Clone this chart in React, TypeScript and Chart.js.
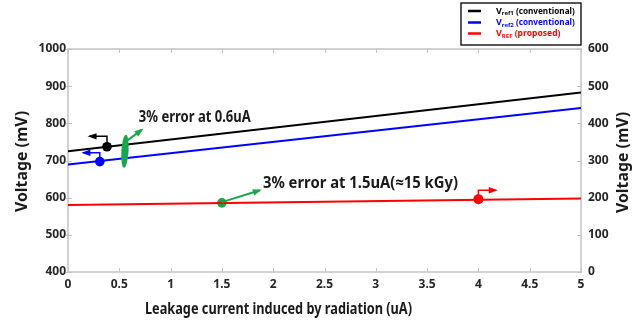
import React, { useEffect, useRef } from "react";
import { Chart, registerables } from "chart.js";

Chart.register(...registerables);

// ---- data ----
const xEnds = [0, 5];
const vref1 = [725, 883];
const vref2 = [689, 841];
const vrefProposed = [580, 598];

const markerBlack = { x: 0.38, y: 737 };
const markerBlue = { x: 0.31, y: 697 };
const markerGreen = { x: 1.5, y: 586 };
const markerRed = { x: 4, y: 596 };

const xTickStep = 0.5;
const yLeftRange = [400, 1000];
const yRightRange = [0, 600];
const yStep = 100;

const seriesLabels = [
  { main: "V", sub: "ref1", rest: " (conventional)" },
  { main: "V", sub: "ref2", rest: " (conventional)" },
  { main: "V", sub: "REF", rest: " (proposed)" },
];
const seriesColors = ["#000000", "#0000ff", "#ff0000"];
const GREEN = "#17a84c";

// annotations in data units
const arrowBlack = [[0.38, 737], [0.38, 765], [0.21, 765]];
const arrowBlue = [[0.31, 697], [0.31, 721], [0.15, 721]];
const arrowGreen1 = [[0.57, 752], [0.72, 783]];
const arrowGreen2 = [[1.5, 588], [1.87, 620]];
const arrowRed = [[4, 596], [4, 620], [4.17, 620]];
const ellipseCenter = { x: 0.555, y: 725 };
const note1 = { x: 0.69, y: 816, text: "3% error at 0.6uA" };
const note2 = { x: 1.9, y: 639, text: "3% error at 1.5uA(\u224815 kGy)" };

const FONT = '"Noto Sans", "Open Sans", sans-serif';

function line(data: number[]) {
  return xEnds.map((x, i) => ({ x, y: data[i] }));
}

function fitText(
  ctx: CanvasRenderingContext2D,
  s: string,
  x: number,
  y: number,
  size: number,
  width: number,
  color: string,
  align: CanvasTextAlign = "left",
  rot = 0
) {
  ctx.save();
  ctx.font = `bold ${size}px ${FONT}`;
  const w = ctx.measureText(s).width;
  ctx.translate(x, y);
  if (rot) ctx.rotate(rot);
  ctx.scale(width / w, 1);
  ctx.fillStyle = color;
  ctx.textAlign = align;
  ctx.textBaseline = "middle";
  ctx.fillText(s, 0, 0);
  ctx.restore();
}

function drawArrow(ctx: CanvasRenderingContext2D, pts: number[][], color: string, lw: number) {
  ctx.save();
  ctx.strokeStyle = color;
  ctx.fillStyle = color;
  ctx.lineWidth = lw;
  ctx.beginPath();
  pts.forEach((p, i) => (i === 0 ? ctx.moveTo(p[0], p[1]) : ctx.lineTo(p[0], p[1])));
  ctx.stroke();
  const a = pts[pts.length - 2];
  const b = pts[pts.length - 1];
  const ang = Math.atan2(b[1] - a[1], b[0] - a[0]);
  const L = 7;
  const W = 3.2;
  ctx.beginPath();
  ctx.moveTo(b[0] + Math.cos(ang) * 2, b[1] + Math.sin(ang) * 2);
  ctx.lineTo(b[0] - Math.cos(ang) * L + Math.sin(ang) * W, b[1] - Math.sin(ang) * L - Math.cos(ang) * W);
  ctx.lineTo(b[0] - Math.cos(ang) * L - Math.sin(ang) * W, b[1] - Math.sin(ang) * L + Math.cos(ang) * W);
  ctx.closePath();
  ctx.fill();
  ctx.restore();
}

const decorPlugin = {
  id: "decor",
  beforeDatasetsDraw(chart: any) {
    const { ctx, chartArea: a, scales } = chart;
    ctx.save();
    ctx.strokeStyle = "#c4c4c4";
    ctx.lineWidth = 1.5;
    ctx.strokeRect(a.left, a.top, a.right - a.left, a.bottom - a.top);
    ctx.lineWidth = 1;
    const tl = 4;
    ctx.beginPath();
    for (let v = 0; v <= 5 + 1e-9; v += xTickStep) {
      const px = Math.round(scales.x.getPixelForValue(v)) + 0.5;
      ctx.moveTo(px, a.bottom);
      ctx.lineTo(px, a.bottom - tl);
      ctx.moveTo(px, a.top);
      ctx.lineTo(px, a.top + tl);
    }
    for (let v = yLeftRange[0]; v <= yLeftRange[1]; v += yStep) {
      const py = Math.round(scales.y.getPixelForValue(v)) + 0.5;
      ctx.moveTo(a.left - 2, py);
      ctx.lineTo(a.left + tl, py);
    }
    for (let v = yRightRange[0]; v <= yRightRange[1]; v += yStep) {
      const py = Math.round(scales.y2.getPixelForValue(v)) + 0.5;
      ctx.moveTo(a.right + 1, py);
      ctx.lineTo(a.right - tl, py);
    }
    ctx.stroke();
    ctx.restore();
  },
  afterDatasetsDraw(chart: any) {
    const { ctx, chartArea: a, scales } = chart;
    const X = (v: number) => scales.x.getPixelForValue(v);
    const Y = (v: number) => scales.y.getPixelForValue(v);
    const P = (pts: number[][]) => pts.map((p) => [X(p[0]), Y(p[1])]);

    drawArrow(ctx, P(arrowBlack), "#000000", 1.5);
    drawArrow(ctx, P(arrowBlue), "#0000ff", 1.5);
    drawArrow(ctx, P(arrowGreen1), GREEN, 2);
    drawArrow(ctx, P(arrowGreen2), GREEN, 2);
    drawArrow(ctx, P(arrowRed), "#ff0000", 1.5);

    // green ellipse
    ctx.save();
    ctx.fillStyle = GREEN;
    ctx.beginPath();
    ctx.ellipse(X(ellipseCenter.x), Y(ellipseCenter.y), 3.6, 16.5, 0.06, 0, Math.PI * 2);
    ctx.fill();
    ctx.restore();

    fitText(ctx, note1.text, X(note1.x), Y(note1.y), 16, 112, "#1a1a1a");
    fitText(ctx, note2.text, X(note2.x), Y(note2.y), 16, 195, "#1a1a1a");

    // axis titles
    fitText(ctx, "Voltage (mV)", 22, (a.top + a.bottom) / 2 + 1, 16, 101, "#1a1a1a", "center", -Math.PI / 2);
    fitText(ctx, "Voltage (mV)", 623, (a.top + a.bottom) / 2 + 2, 16, 101, "#1a1a1a", "center", -Math.PI / 2);
    fitText(ctx, "Leakage current induced by radiation (uA)", 278.5, 309, 16, 267, "#1a1a1a", "center");

    // legend
    ctx.save();
    ctx.fillStyle = "#ffffff";
    ctx.fillRect(461, 3, 120, 42);
    ctx.strokeStyle = "#111111";
    ctx.lineWidth = 1.4;
    ctx.strokeRect(461, 3, 120, 42);
    const rows = [11, 22.5, 33.5];
    seriesLabels.forEach((lab, i) => {
      const y = rows[i];
      const col = seriesColors[i];
      ctx.strokeStyle = col;
      ctx.lineWidth = 2.5;
      ctx.beginPath();
      ctx.moveTo(468, y);
      ctx.lineTo(481, y);
      ctx.stroke();
      ctx.fillStyle = col;
      ctx.textBaseline = "middle";
      ctx.textAlign = "left";
      let x = 496;
      ctx.font = `bold 9px ${FONT}`;
      ctx.fillText(lab.main, x, y);
      x += ctx.measureText(lab.main).width;
      ctx.font = `bold 6px ${FONT}`;
      ctx.fillText(lab.sub, x, y + 2.5);
      x += ctx.measureText(lab.sub).width;
      ctx.save();
      ctx.font = `bold 9px ${FONT}`;
      const w = ctx.measureText(lab.rest).width;
      const target = i === 2 ? 48 : 61;
      ctx.translate(x, y);
      ctx.scale(target / w, 1);
      ctx.fillText(lab.rest, 0, 0);
      ctx.restore();
    });
    ctx.restore();
  },
};

const fmt = (v: any) => String(Number(v));

export default function App() {
  const ref = useRef<HTMLCanvasElement | null>(null);
  useEffect(() => {
    if (!ref.current) return;
    const tickFont = { family: FONT, size: 12, weight: "bold" as const };
    const chart = new Chart(ref.current, {
      type: "line",
      data: {
        datasets: [
          { label: "Vref1", data: line(vref1), borderColor: seriesColors[0], borderWidth: 2, pointRadius: 0, yAxisID: "y" },
          { label: "Vref2", data: line(vref2), borderColor: seriesColors[1], borderWidth: 2, pointRadius: 0, yAxisID: "y" },
          { label: "VREF", data: line(vrefProposed), borderColor: seriesColors[2], borderWidth: 2, pointRadius: 0, yAxisID: "y" },
          { label: "m1", data: [markerBlack], showLine: false, pointRadius: 4.8, pointBackgroundColor: "#000", pointBorderWidth: 0, yAxisID: "y" },
          { label: "m2", data: [markerBlue], showLine: false, pointRadius: 4.8, pointBackgroundColor: "#0000ff", pointBorderWidth: 0, yAxisID: "y" },
          { label: "m3", data: [markerGreen], showLine: false, pointRadius: 4.8, pointBackgroundColor: GREEN, pointBorderWidth: 0, yAxisID: "y" },
          { label: "m4", data: [markerRed], showLine: false, pointRadius: 5, pointBackgroundColor: "#ff0000", pointBorderWidth: 0, yAxisID: "y" },
        ] as any,
      },
      options: {
        animation: false,
        responsive: false,
        layout: { padding: { top: 49, left: 0, right: 0, bottom: 0 } },
        plugins: { legend: { display: false }, tooltip: { enabled: false } },
        scales: {
          x: {
            type: "linear",
            min: xEnds[0],
            max: xEnds[1],
            grid: { display: false, drawTicks: false },
            border: { display: false },
            ticks: { stepSize: xTickStep, font: tickFont, color: "#262626", padding: 5, maxRotation: 0, callback: fmt },
            afterFit: (s: any) => { s.height = 52; },
          },
          y: {
            position: "left",
            min: yLeftRange[0],
            max: yLeftRange[1],
            grid: { display: false, drawTicks: false },
            border: { display: false },
            ticks: { stepSize: yStep, font: tickFont, color: "#262626", padding: 2, callback: fmt },
            afterFit: (s: any) => { s.width = 68; },
          },
          y2: {
            position: "right",
            min: yRightRange[0],
            max: yRightRange[1],
            grid: { display: false, drawTicks: false },
            border: { display: false },
            ticks: { stepSize: yStep, font: tickFont, color: "#262626", padding: 7, callback: fmt },
            afterFit: (s: any) => { s.width = 63; },
          },
        } as any,
      },
      plugins: [decorPlugin],
    });
    return () => chart.destroy();
  }, []);
  return (
    <div style={{ position: "absolute", left: 0, top: 0, width: 644, height: 324, background: "#fff" }}>
      <canvas ref={ref} width={644} height={324} />
    </div>
  );
}
